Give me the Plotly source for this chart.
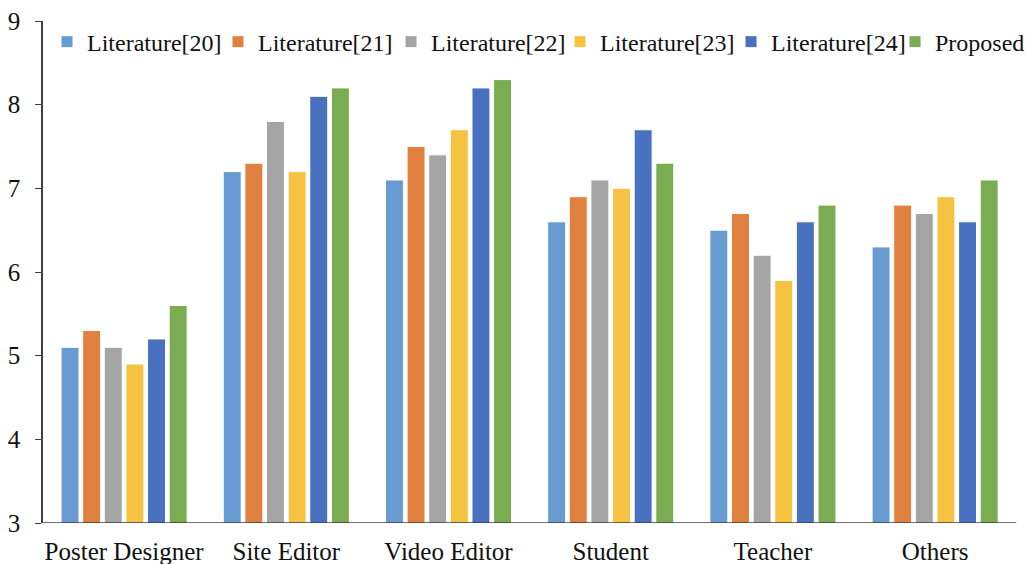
import plotly.graph_objects as go

categories = ["Poster Designer", "Site Editor", "Video Editor", "Student", "Teacher", "Others"]
series_names = ["Literature[20]", "Literature[21]", "Literature[22]", "Literature[23]", "Literature[24]", "Proposed"]
lit20 = [5.1, 7.2, 7.1, 6.6, 6.5, 6.3]
lit21 = [5.3, 7.3, 7.5, 6.9, 6.7, 6.8]
lit22 = [5.1, 7.8, 7.4, 7.1, 6.2, 6.7]
lit23 = [4.9, 7.2, 7.7, 7.0, 5.9, 6.9]
lit24 = [5.2, 8.1, 8.2, 7.7, 6.6, 6.6]
proposed = [5.6, 8.2, 8.3, 7.3, 6.8, 7.1]
colors = ["#699BD3", "#E0813F", "#A5A5A5", "#F6C242", "#4A70C0", "#7AAC51"]

series = [lit20, lit21, lit22, lit23, lit24, proposed]
font = "Liberation Serif"

# one single-entry legend per series, laid out in a row like the reference
legend_ids = ["legend", "legend2", "legend3", "legend4", "legend5", "legend6"]
legend_x = [0.00405, 0.1773, 0.3526, 0.5238, 0.6971, 1.0]
legend_anchor = ["left", "left", "left", "left", "left", "right"]

fig = go.Figure()
for name, vals, col, lg in zip(series_names, series, colors, legend_ids):
    fig.add_trace(go.Bar(
        x=categories, y=vals, name=name, legend=lg,
        marker=dict(color=col, line=dict(color="white", width=1)),
    ))

legend_common = dict(
    orientation="h", yanchor="middle", y=0.958,
    font=dict(family=font, size=24, color="#111111"),
    itemwidth=30, bgcolor="rgba(0,0,0,0)", traceorder="normal",
    itemclick=False, itemdoubleclick=False,
)
legends = {lg: dict(legend_common, x=lx, xanchor=la)
           for lg, lx, la in zip(legend_ids, legend_x, legend_anchor)}

# x axis baseline spanning the category band only
fig.add_shape(type="line", xref="x", yref="y", x0=-0.5, x1=len(categories) - 0.5,
              y0=3, y1=3, line=dict(color="#404040", width=1.5), layer="above")

fig.update_layout(
    width=1033, height=564,
    margin=dict(l=43, r=3, t=21, b=41),
    paper_bgcolor="white", plot_bgcolor="white",
    barmode="group", bargap=0.2, bargroupgap=0.17,
    font=dict(family=font, size=25, color="#111111"),
    showlegend=True,
    xaxis=dict(
        range=[-0.5, 5.585], showline=False,
        ticks="", showgrid=False, tickfont=dict(family=font, size=25), tickangle=0,
        automargin=False, ticklabelstandoff=11,
    ),
    yaxis=dict(
        range=[3, 9], dtick=1, tick0=3, showline=True, linecolor="#404040", linewidth=1.5,
        ticks="outside", ticklen=6, tickcolor="#404040", showgrid=False, zeroline=False,
        tickfont=dict(family=font, size=25), ticklabelstandoff=10, automargin=False,
    ),
    **legends,
)

fig.write_html("out.html")
